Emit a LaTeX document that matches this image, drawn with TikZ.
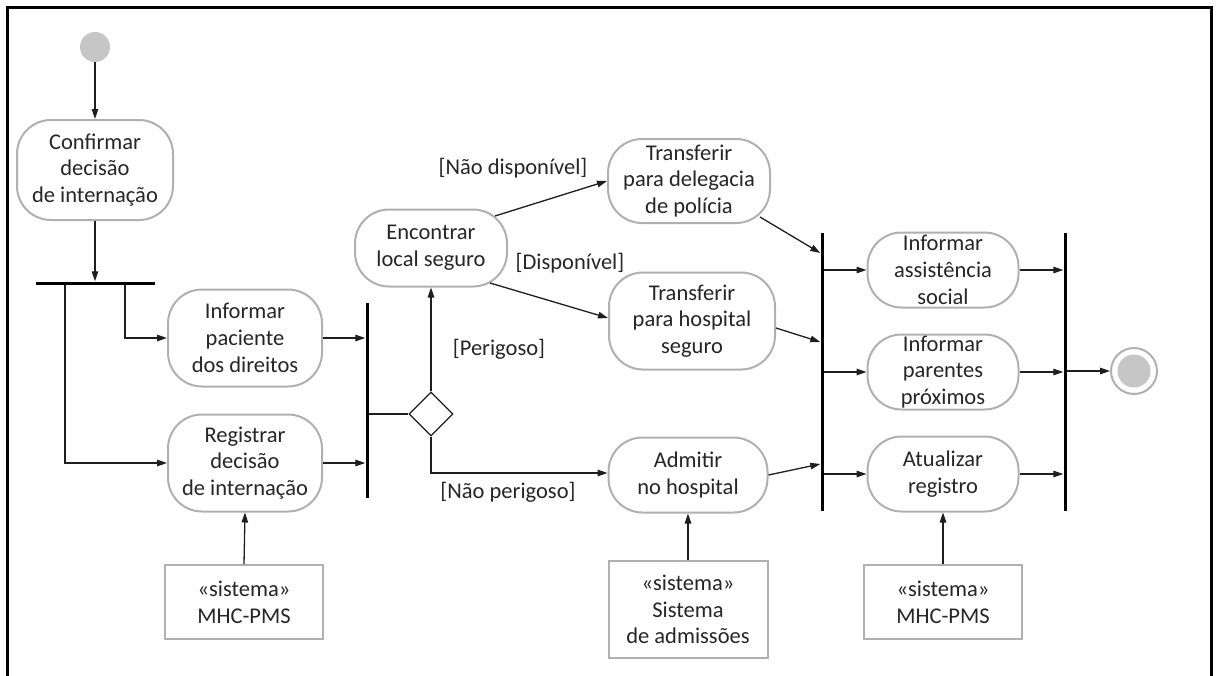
\documentclass[tikz,border=0pt]{standalone}
\usepackage{fontspec}
\setmainfont{Carlito}
\usetikzlibrary{arrows.meta,shapes.geometric,calc}
\definecolor{boxline}{HTML}{B0B0B0}
\definecolor{txt}{HTML}{262626}
\definecolor{ln}{HTML}{1E1E1E}
\definecolor{dot}{HTML}{C6C6C6}
\begin{document}
\begin{tikzpicture}[x=1pt,y=-1pt,
  lbl/.style={font=\fontsize{22.5}{26.8}\selectfont, text=txt},
  act/.style={lbl, draw=boxline, line width=2pt, fill=white, rounded corners=34pt,
    align=center, inner sep=0pt},
  sysbox/.style={lbl, draw=boxline, line width=2pt, fill=white, align=center, inner sep=0pt},
  bar/.style={fill=black, draw=none, inner sep=0pt},
  flow/.style={draw=ln, line width=1.3pt, -{Triangle[length=10pt,width=6.5pt]}},
  guard/.style={lbl, inner sep=0pt}
]
\useasboundingbox (0,0) rectangle (1220,675);
% outer frame
\draw[line width=3pt] (7,680) -- (7,7) -- (1211,7) -- (1211,680);

% initial and final nodes
\node[circle, fill=dot, inner sep=0pt, minimum size=30pt] (start) at (95,47) {};
\node[circle, draw=boxline, line width=2pt, fill=white, inner sep=0pt, minimum size=46pt] (finish) at (1134,371) {};
\node[circle, fill=dot, inner sep=0pt, minimum size=33pt] (finishdot) at (finish) {};

% actions
\node[act, minimum width=156pt, minimum height=100pt] (confirm) at (95,170) {Confirmar\\decisão\\de internação};
\node[act, minimum width=154pt, minimum height=97pt] (inform) at (245,338) {Informar\\paciente\\dos direitos};
\node[act, minimum width=154pt, minimum height=97pt] (register) at (245,463) {Registrar\\decisão\\de internação};
\node[act, minimum width=152pt, minimum height=77pt] (findsafe) at (431,248) {Encontrar\\local seguro};
\node[act, minimum width=162pt, minimum height=84pt] (police) at (689,181) {Transferir\\para delegacia\\de polícia};
\node[act, minimum width=166pt, minimum height=97pt] (safehosp) at (692,321) {Transferir\\para hospital\\seguro};
\node[act, minimum width=159pt, minimum height=75pt] (admit) at (688,475) {Admitir\\no hospital};
\node[act, minimum width=151pt, minimum height=75pt] (social) at (943,270) {Informar\\assistência\\social};
\node[act, minimum width=151pt, minimum height=75pt] (relatives) at (943,372) {Informar\\parentes\\próximos};
\node[act, minimum width=151pt, minimum height=75pt] (update) at (943,474) {Atualizar\\registro};

% systems
\node[sysbox, minimum width=158pt, minimum height=74pt] (sysA) at (244,602) {«sistema»\\MHC-PMS};
\node[sysbox, minimum width=159pt, minimum height=97pt] (sysB) at (688,609.5) {«sistema»\\Sistema\\de admissões};
\node[sysbox, minimum width=158pt, minimum height=74pt] (sysC) at (943,602) {«sistema»\\MHC-PMS};

% fork / join bars and decision
\node[bar, minimum width=119pt, minimum height=3pt] (fork) at (95.5,283) {};
\node[bar, minimum width=3pt, minimum height=195pt] (joinA) at (367,400.5) {};
\node[bar, minimum width=3pt, minimum height=278pt] (joinB) at (822,372) {};
\node[bar, minimum width=3pt, minimum height=278pt] (joinC) at (1065,372) {};
\node[diamond, draw=ln, line width=1.3pt, fill=white, inner sep=0pt, minimum width=44pt, minimum height=44pt] (decide) at (431,414) {};

% guards
\node[guard] (gNotAvail) at (513,168) {[Não disponível]};
\node[guard] (gAvail) at (570,263) {[Disponível]};
\node[guard] (gDanger) at (499,349) {[Perigoso]};
\node[guard] (gSafe) at (508,492) {[Não perigoso]};

% flows
\draw[flow] (start) -- (confirm);
\draw[flow] (confirm) -- (confirm |- fork.north);
\draw[flow] ($(fork.south)+(29.5,0)$) |- (inform.west);
\draw[flow] ($(fork.south)+(-30.5,0)$) |- (register.west);
\draw[flow] (inform.east) -- (inform.east -| joinA.west);
\draw[flow] (register.east) -- (register.east -| joinA.west);
\draw[draw=ln, line width=1.3pt] (joinA.east |- decide) -- (decide.west);
\draw[flow] (decide.north) -- (findsafe.south);
\draw[flow] (decide.south) |- ($(admit.west)+(0,-2)$);
\draw[flow] ($(findsafe)+(64,-32)$) -- (police.west);
\draw[flow] ($(findsafe)+(59,35)$) -- ($(safehosp.west)+(0,-3)$);
\draw[flow] ($(police)+(71,36)$) -- ($(joinB.west)+(0,-119)$);
\draw[flow] ($(safehosp.east)+(0,7)$) -- ($(joinB.west)+(0,-30)$);
\draw[flow] (admit.east) -- ($(joinB.west)+(0,92)$);
\draw[flow] (joinB.east |- social) -- (social.west);
\draw[flow] (joinB.east |- relatives) -- (relatives.west);
\draw[flow] (joinB.east |- update) -- (update.west);
\draw[flow] (social.east) -- (social.east -| joinC.west);
\draw[flow] (relatives.east) -- (relatives.east -| joinC.west);
\draw[flow] (update.east) -- (update.east -| joinC.west);
\draw[flow] (joinC.east |- finish) -- (finish.west);
\draw[flow] (sysA.north) -- (register.south);
\draw[flow] (sysB.north) -- (admit.south);
\draw[flow] (sysC.north) -- (update.south);
\end{tikzpicture}
\end{document}
